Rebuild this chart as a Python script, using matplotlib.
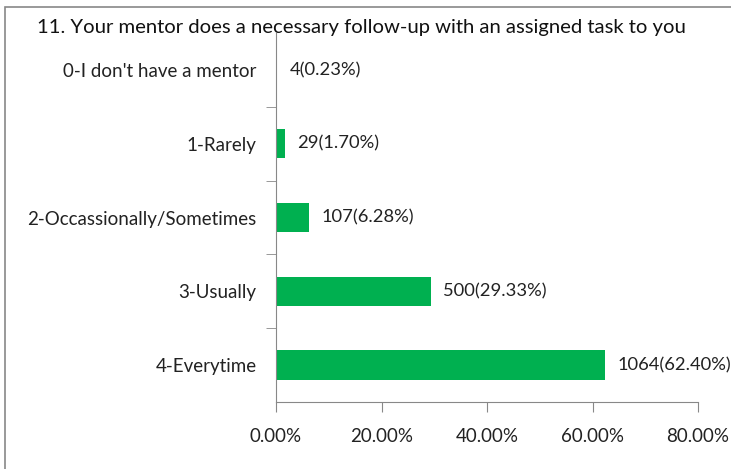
import matplotlib.pyplot as plt
from matplotlib.patches import Rectangle

categories = ["0-I don't have a mentor", "1-Rarely", "2-Occassionally/Sometimes",
              "3-Usually", "4-Everytime"]
counts = [4, 29, 107, 500, 1064]
percents = [0.23, 1.70, 6.28, 29.33, 62.40]
xticks = [0, 20, 40, 60, 80]
title = "11. Your mentor does a necessary follow-up with an assigned task to you"

plt.rcParams['font.family'] = ['Lato', 'DejaVu Sans']
W, H = 731, 469
fig = plt.figure(figsize=(W / 100, H / 100), dpi=100)
ax = fig.add_axes([276 / W, 1 - 402 / H, (698 - 276) / W, (402 - 33) / H])

ypos = list(range(len(categories)))[::-1]
ax.barh(ypos, percents, height=0.4, color="#00B050")
for y, c, p in zip(ypos, counts, percents):
    ax.annotate(f"{c}({p:.2f}%)", (p, y), xytext=(9, 0), textcoords="offset points",
                va="center", ha="left", fontsize=13.2, color="#222222", annotation_clip=False)

ax.set_xlim(0, 80)
ax.set_ylim(-0.5, len(categories) - 0.5)
ax.set_xticks(xticks)
ax.set_xticklabels([f"{t:.2f}%" for t in xticks], fontsize=13.5, color="#222222")
ax.set_yticks(ypos)
ax.set_yticklabels(categories, fontsize=13.5, color="#222222")
ax.set_yticks([i + 0.5 for i in range(len(categories) - 1)], minor=True)
ax.tick_params(axis="y", which="major", length=0, pad=14)
ax.tick_params(axis="y", which="minor", length=7, color="#888888", direction="out")
ax.tick_params(axis="x", length=7, color="#888888", direction="out", pad=12)
for s in ["top", "right"]:
    ax.spines[s].set_visible(False)
for s in ["left", "bottom"]:
    ax.spines[s].set_color("#888888")

fig.text(37 / W, 1 - 27 / H, title, fontsize=14.6, color="#111111", va="center", ha="left")
fig.patches.append(Rectangle((5 / W, -0.1), 1.2, 1 - 7 / H + 0.1, transform=fig.transFigure,
                             fill=False, edgecolor="#888888", linewidth=1.2))

fig.savefig("out.png", dpi=100)
